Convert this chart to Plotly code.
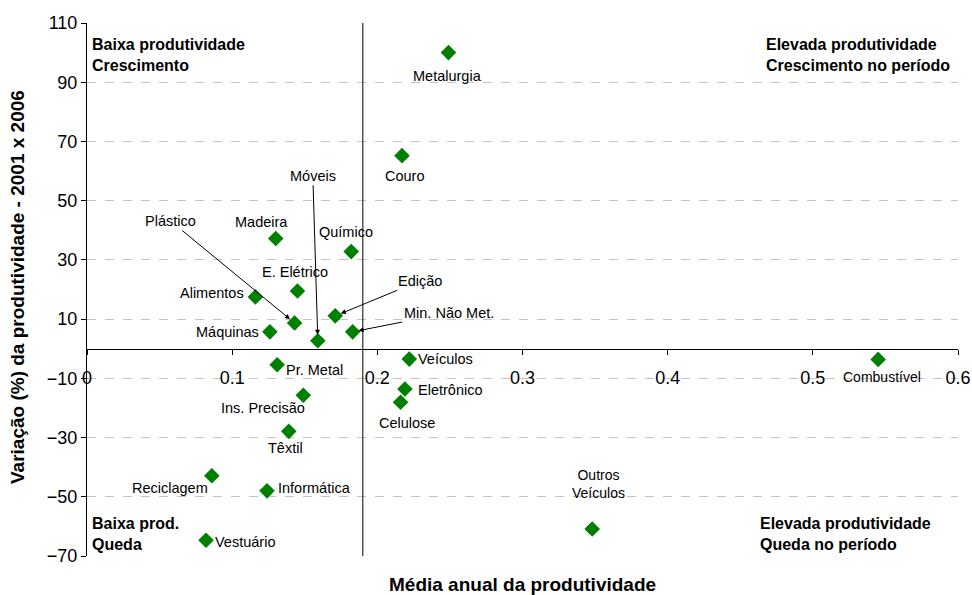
import plotly.graph_objects as go

sectors = ["Metalurgia", "Couro", "Madeira", "Químico", "E. Elétrico", "Alimentos",
           "Plástico", "Edição", "Min. Não Met.", "Máquinas", "Móveis", "Veículos",
           "Combustível", "Pr. Metal", "Eletrônico", "Ins. Precisão", "Celulose",
           "Têxtil", "Reciclagem", "Informática", "Outros<br>Veículos", "Vestuário"]
produtividade = [0.249, 0.217, 0.130, 0.182, 0.145, 0.116,
                 0.143, 0.171, 0.183, 0.126, 0.159, 0.222,
                 0.545, 0.131, 0.219, 0.149, 0.216,
                 0.139, 0.086, 0.124, 0.348, 0.082]
variacao = [100.0, 65.2, 37.2, 32.8, 19.5, 17.5,
            8.7, 11.1, 5.7, 5.7, 2.7, -3.5,
            -3.6, -5.4, -13.6, -15.7, -18.1,
            -27.9, -42.9, -48.0, -60.9, -64.7]

x_ticks = [0, 0.1, 0.2, 0.3, 0.4, 0.5, 0.6]
y_ticks = [-70, -50, -30, -10, 10, 30, 50, 70, 90, 110]
divisor_x = 0.19

# label placement (pixels): (xanchor, xshift, yshift)
label_style = {
    "Metalurgia": ("center", -1, -23),
    "Couro": ("center", 3, -20),
    "Madeira": ("center", -14, 17),
    "Químico": ("center", -5, 20),
    "E. Elétrico": ("center", -2, 19),
    "Alimentos": ("right", -9, 4),
    "Máquinas": ("right", -9, 0),
    "Veículos": ("left", 7, 0),
    "Combustível": ("center", 4, -18),
    "Pr. Metal": ("left", 7, -5),
    "Eletrônico": ("left", 11, -1),
    "Ins. Precisão": ("center", -40, -13),
    "Celulose": ("center", 6, -21),
    "Têxtil": ("center", -3, -17),
    "Reciclagem": ("right", -2, -12),
    "Informática": ("left", 9, 3),
    "Outros<br>Veículos": ("center", 6, 45),
    "Vestuário": ("left", 7, -2),
}
arrow_style = {
    "Plástico": (-124, -102),
    "Móveis": (-5, -165),
    "Edição": (85, -35),
    "Min. Não Met.": (96, -19),
}

FONT = "Liberation Sans, Arial, sans-serif"

fig = go.Figure()
fig.add_trace(go.Scatter(
    x=produtividade, y=variacao, mode="markers",
    marker=dict(symbol="diamond", size=12, color="#008000", line=dict(width=0)),
    hoverinfo="skip", showlegend=False))

annotations = []
for name, xv, yv in zip(sectors, produtividade, variacao):
    if name in arrow_style:
        ax, ay = arrow_style[name]
        annotations.append(dict(x=xv, y=yv, text=name, showarrow=True, ax=ax, ay=ay,
                                arrowhead=2, arrowsize=1, arrowwidth=1, arrowcolor="black",
                                standoff=6, font=dict(size=14.5, color="black", family=FONT)))
    else:
        xa, xs, ys = label_style[name]
        size = 14 if name in ("Combustível", "Outros<br>Veículos") else 14.5
        annotations.append(dict(x=xv, y=yv, text=name, showarrow=False, xanchor=xa,
                                xshift=xs, yshift=ys,
                                font=dict(size=size, color="black", family=FONT)))

quad = [
    ("<b>Baixa produtividade<br>Crescimento</b>", 0.003, 0.94),
    ("<b>Elevada produtividade<br>Crescimento no período</b>", 0.777, 0.94),
    ("<b>Baixa prod.<br>Queda</b>", 0.003, 0.041),
    ("<b>Elevada produtividade<br>Queda no período</b>", 0.770, 0.041),
]
for txt, xp, yp in quad:
    annotations.append(dict(xref="paper", yref="paper", x=xp, y=yp, text=txt,
                            showarrow=False, xanchor="left", yanchor="middle", align="left",
                            font=dict(size=16, color="black", family=FONT)))

annotations.append(dict(xref="paper", yref="paper", x=0.5, y=-0.054,
                        text="<b>Média anual da produtividade</b>", showarrow=False,
                        xanchor="center", yanchor="middle",
                        font=dict(size=19, color="black", family=FONT)))
annotations.append(dict(xref="paper", yref="paper", x=-0.079, y=0.505,
                        text="<b>Variação (%) da produtividade - 2001 x 2006</b>",
                        showarrow=False, textangle=-90, xanchor="center", yanchor="middle",
                        font=dict(size=19, color="black", family=FONT)))

fig.add_shape(type="line", x0=divisor_x, x1=divisor_x, y0=y_ticks[0], y1=y_ticks[-1],
              xref="x", yref="y", line=dict(color="black", width=1))

y_min, y_max = y_ticks[0], y_ticks[-1]
fig.update_layout(
    width=972, height=595,
    margin=dict(l=87, r=14, t=23, b=39),
    paper_bgcolor="white", plot_bgcolor="white",
    font=dict(family=FONT, color="black"),
    annotations=annotations,
    xaxis=dict(range=[x_ticks[0], x_ticks[-1]], tickvals=x_ticks,
               ticktext=[str(t) if t != 0 else "0" for t in x_ticks],
               showgrid=False, zeroline=False, showline=True, linecolor="black",
               linewidth=1, ticks="outside", ticklen=5, tickcolor="black",
               anchor="free", position=(0 - y_min) / (y_max - y_min), automargin=False,
               ticklabelstandoff=8, tickfont=dict(size=18, color="black")),
    yaxis=dict(range=[y_min, y_max], tickvals=y_ticks, automargin=False,
               showgrid=True, gridcolor="#c4c4c4", griddash="dash", gridwidth=1,
               zeroline=False, showline=True, linecolor="black", linewidth=1,
               ticks="outside", ticklen=5, tickcolor="black",
               tickfont=dict(size=18, color="black")),
)

fig.write_html("out.html", config={"displayModeBar": False},
               post_script="document.body.style.margin='0px';")
